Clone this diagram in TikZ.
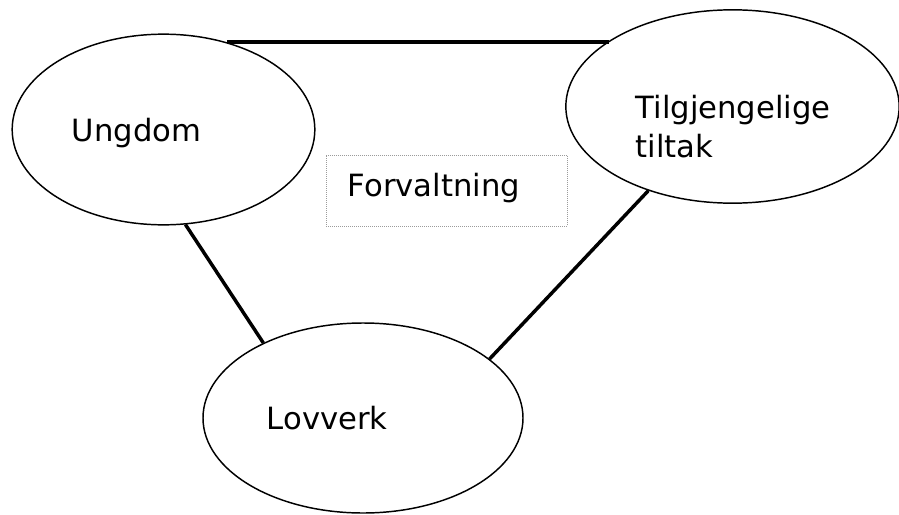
\documentclass[tikz,border=0pt]{standalone}
\usepackage{fontspec}
\setmainfont{DejaVu Sans}
\usetikzlibrary{shapes.geometric}
\definecolor{boxgr}{HTML}{9B9B9B}

\begin{document}
\begin{tikzpicture}[
            x = 0.75pt, y = -0.75pt, % pixel like units
            auto,
            line width = 1.1pt % line style
        ]

        \tikzstyle{blob}=[
            ellipse,
            draw = black,
            inner sep = 0pt
        ]
        \tikzstyle{label}=[
            inner sep = 0pt,
            anchor = base west,
            font = \fontsize{23}{29}\selectfont
        ]
        \tikzstyle{link}=[
            line width = 2.6pt
        ]

        \useasboundingbox (0, 0) rectangle (899, 514);

        \node[blob, minimum width = 227pt, minimum height = 143pt] (ungdom) [at={(163.5, 129.5)}] {};
        \node[blob, minimum width = 250pt, minimum height = 145pt] (tiltak) [at={(732.5, 106.5)}] {};
        \node[blob, minimum width = 240pt, minimum height = 142.5pt] (lovverk) [at={(363, 418)}] {};
        \node[draw = boxgr, line width = 0.5pt, densely dotted, minimum width = 180.75pt, minimum height = 53.25pt] (box) [at={(446.5, 190.5)}] {};

        \node[label] (ungdomtxt) [at={(71, 141)}] {Ungdom};
        \node[label, anchor = north west, align = left] (tiltaktxt) [at={(635, 94.5)}] {Tilgjengelige\\tiltak};
        \node[label] (lovverktxt) [at={(266, 429)}] {Lovverk};
        \node[label] (boxtxt) [at={(347, 196)}] {Forvaltning};

        \path[link] (ungdom.54) edge node {} (ungdom.54 -| tiltak.152.6);
        \path[link] (ungdom.283.7) edge node {} (lovverk.143);
        \path[link] (tiltak.225.3) edge node {} (lovverk.25.7);
    \end{tikzpicture}
\end{document}
